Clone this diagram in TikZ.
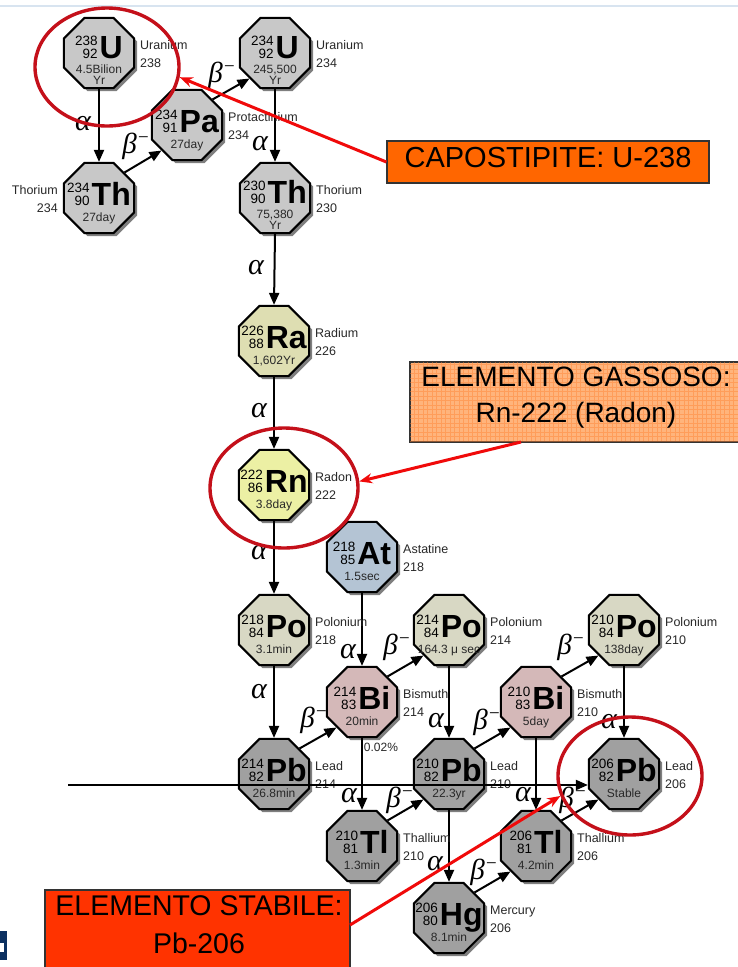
\documentclass[tikz,border=0pt]{standalone}
\usepackage{fontspec}
\setmainfont{Liberation Sans}
\newfontfamily\grk{Liberation Serif}
\usetikzlibrary{shapes.geometric,arrows.meta,shadows}

\definecolor{cgrey}{RGB}{200,200,200}
\definecolor{cra}{RGB}{222,222,178}
\definecolor{crn}{RGB}{236,240,164}
\definecolor{cat}{RGB}{180,196,212}
\definecolor{cpo}{RGB}{216,216,196}
\definecolor{cbi}{RGB}{212,184,184}
\definecolor{cpb}{RGB}{160,160,160}
\definecolor{ellred}{RGB}{196,16,26}
\definecolor{arrred}{RGB}{240,10,10}
\definecolor{orgA}{RGB}{255,102,0}
\definecolor{orgB}{RGB}{255,180,124}
\definecolor{orgL}{RGB}{255,130,50}
\definecolor{orgC}{RGB}{255,51,0}
\definecolor{txt}{RGB}{40,40,40}
\definecolor{navy}{RGB}{12,48,96}
\definecolor{topblue}{RGB}{216,228,240}

\tikzset{
  oct/.style={draw=black, line width=2pt, regular polygon, regular polygon sides=8,
    minimum size=76pt, inner sep=0pt,
    drop shadow={shadow xshift=3pt, shadow yshift=-3pt, opacity=0.5, fill=black}},
  symlab/.style={inner sep=0pt, anchor=base, text=black},
  hllab/.style={inner sep=0pt, anchor=base, text=txt, font=\fontsize{12}{12}\selectfont},
  namelab/.style={inner sep=0pt, align=left, text=txt, font=\fontsize{12.5}{17.5}\selectfont},
  decay/.style={line width=2pt, -{Triangle[length=12pt,width=10pt]}},
  alabel/.style={inner sep=0pt, font=\grk\itshape\fontsize{30}{30}\selectfont},
  blabel/.style={inner sep=0pt, font=\grk\itshape\fontsize{29}{29}\selectfont},
  redell/.style={draw=ellred, line width=3.4pt, ellipse, inner sep=0pt},
  redarrow/.style={draw=arrred, line width=3pt, -{Stealth[length=13pt,width=10pt]}},
  callout/.style={draw=black!80, line width=1.2pt, inner sep=0pt},
  calltext/.style={inner sep=0pt, align=center, text=black},
}

\newcommand\numbl[2]{\vbox{\fontsize{13.5}{12.5}\selectfont\baselineskip=12.5pt\lineskiplimit=-20pt\halign{\hfil##\cr#1\cr#2\cr}}}
% single half-life line
\newcommand\nuc[7]{%
  \node[oct, fill=#3] (#1) at #2 {};
  \path (#1) ++(0,7) node[symlab] {\numbl{#4}{#5}\hspace{2pt}{\bfseries\fontsize{32}{32}\selectfont #6}};
  \path (#1) ++(0,23) node[hllab] {#7};
}
% two half-life lines
\newcommand\nucY[8]{%
  \node[oct, fill=#3] (#1) at #2 {};
  \path (#1) ++(0,5) node[symlab] {\numbl{#4}{#5}\hspace{2pt}{\bfseries\fontsize{32}{32}\selectfont #6}};
  \path (#1) ++(0,20) node[hllab] {#7};
  \path (#1) ++(0,31) node[hllab] {#8};
}
\newcommand\nameR[3]{\path (#1) ++(41,1) node[namelab, anchor=west] {#2\\#3};}
\newcommand\nameL[3]{\path (#1) ++(-41,1) node[namelab, anchor=east, align=right] {#2\\#3};}
\newcommand\alab[1]{\node[alabel] at #1 {α};}
\newcommand\blab[1]{\node[blabel] at #1 {β\raisebox{10pt}{\fontsize{19}{19}\selectfont −}};}

\begin{document}
\begin{tikzpicture}[x=1pt,y=-1pt]
\useasboundingbox (0,0) rectangle (738,967);
\clip (0,0) rectangle (738,967);
\fill[white] (0,0) rectangle (738,967);
\draw[topblue, line width=1.5pt] (0,6) -- (738,6);

% nuclides
\nucY{u238}{(99,53)}{cgrey}{238}{92}{U}{4.5Bilion}{Yr}
\nucY{u234}{(275,53)}{cgrey}{234}{92}{U}{245,500}{Yr}
\nucY{th230}{(275,198)}{cgrey}{230}{90}{Th}{75,380}{Yr}
\nuc{pa}{(187,125)}{cgrey}{234}{91}{Pa}{27day}
\nuc{th234}{(99,198)}{cgrey}{234}{90}{Th}{27day}
\nuc{ra}{(274,341)}{cra}{226}{88}{Ra}{1,602Yr}
\nuc{rn}{(274,485)}{crn}{222}{86}{Rn}{3.8day}
\nuc{at}{(362,557)}{cat}{218}{85}{At}{1.5sec}
\nuc{po218}{(274,630)}{cpo}{218}{84}{Po}{3.1min}
\nuc{po214}{(449,630)}{cpo}{214}{84}{Po}{164.3 μ sec}
\nuc{po210}{(624,630)}{cpo}{210}{84}{Po}{138day}
\nuc{bi214}{(362,702)}{cbi}{214}{83}{Bi}{20min}
\nuc{bi210}{(536,702)}{cbi}{210}{83}{Bi}{5day}
\nuc{pb214}{(274,774)}{cpb}{214}{82}{Pb}{26.8min}
\nuc{pb210}{(449,774)}{cpb}{210}{82}{Pb}{22.3yr}
\nuc{pb206}{(624,774)}{cpb}{206}{82}{Pb}{Stable}
\nuc{tl210}{(362,846)}{cpb}{210}{81}{Tl}{1.3min}
\nuc{tl206}{(536,846)}{cpb}{206}{81}{Tl}{4.2min}
\nuc{hg}{(449,918)}{cpb}{206}{80}{Hg}{8.1min}

% decay arrows
\draw[decay] (u238.south) -- (th234.north);
\draw[decay] (th234.45) -- (pa.225);
\draw[decay] (pa.45) -- (u234.225);
\draw[decay] (u234.south) -- (th230.north);
\draw[decay] (th230.south) -- (ra.north);
\draw[decay] (ra.south) -- (rn.north);
\draw[decay] (rn.south) -- (po218.north);
\draw[decay] (po218.south) -- (pb214.north);
\draw[decay] (at.south) -- (bi214.north);
\draw[decay] (pb214.45) -- (bi214.225);
\draw[decay] (bi214.45) -- (po214.225);
\draw[decay] (bi214.south) -- (tl210.north);
\draw[decay] (po214.south) -- (pb210.north);
\draw[decay] (tl210.45) -- (pb210.225);
\draw[decay] (pb210.45) -- (bi210.225);
\draw[decay] (pb210.south) -- (hg.north);
\draw[decay] (bi210.45) -- (po210.225);
\draw[decay] (bi210.south) -- (tl206.north);
\draw[decay] (hg.45) -- (tl206.225);
\draw[decay] (po210.south) -- (pb206.north);
\draw[decay] (tl206.45) -- (pb206.225);

% decay labels
\alab{(83,124)}
\blab{(136,146)}
\blab{(222,75)}
\alab{(260,144)}
\alab{(256,268)}
\alab{(259,411)}
\alab{(259,553)}
\alab{(259,692)}
\alab{(348,652)}
\blab{(397,647)}
\blab{(571,647)}
\blab{(314,720)}
\alab{(436,721)}
\blab{(487,722)}
\alab{(349,796)}
\blab{(400,800)}
\alab{(523,795)}
\blab{(573,800)}
\alab{(609,722)}
\alab{(435,864)}
\blab{(484,872)}
\node[hllab, anchor=center] at (381,747) {0.02\%};

% names
\nameR{u238}{Uranium}{238}
\nameR{u234}{Uranium}{234}
\nameR{pa}{Protactinium}{234}
\nameL{th234}{Thorium}{234}
\nameR{th230}{Thorium}{230}
\nameR{ra}{Radium}{226}
\nameR{rn}{Radon}{222}
\nameR{at}{Astatine}{218}
\nameR{po218}{Polonium}{218}
\nameR{po214}{Polonium}{214}
\nameR{po210}{Polonium}{210}
\nameR{bi214}{Bismuth}{214}
\nameR{bi210}{Bismuth}{210}
\nameR{pb214}{Lead}{214}
\nameR{pb210}{Lead}{210}
\nameR{pb206}{Lead}{206}
\nameR{tl210}{Thallium}{210}
\nameR{tl206}{Thallium}{206}
\nameR{hg}{Mercury}{206}

% horizontal black arrow
\coordinate (hstart) at (68,785);
\draw[line width=2pt, -{Triangle[length=12pt,width=10pt]}] (hstart) -- (hstart -| pb206.west);

% red ellipses
\node[redell, minimum width=144pt, minimum height=118pt] (e1) at (107,67) {};
\node[redell, minimum width=148pt, minimum height=120pt] (e2) at (284,488) {};
\node[redell, minimum width=144pt, minimum height=118pt] (e3) at (630,776) {};

% callout boxes
\node[callout, fill=orgA, minimum width=322pt, minimum height=42pt] (cap) at (548,162) {};
\node[calltext, font=\fontsize{29}{29}\selectfont] at (548,158) {CAPOSTIPITE: U-238};

\node[callout, fill=orgB, minimum width=330pt, minimum height=80pt] (gas) at (575,402) {};
\begin{scope}
  \clip (gas.south west) rectangle (gas.north east);
  \draw[orgL, opacity=0.45, line width=0.6pt, xstep=4.5pt, ystep=4.5pt] (gas.south west) grid (gas.north east);
\end{scope}
\draw[black!80, line width=1.2pt] (gas.south west) rectangle (gas.north east);
\node[calltext, font=\fontsize{28}{36}\selectfont] at (576,398) {ELEMENTO GASSOSO:\\Rn-222 (Radon)};

\node[callout, fill=orgC, minimum width=305pt, minimum height=120pt] (stab) at (197.5,950) {};
\node[calltext, font=\fontsize{28.5}{38}\selectfont] at (199,925) {ELEMENTO STABILE:\\Pb-206};

% red arrows
\coordinate (g1) at (521,442);
\coordinate (s1) at (350,925);
\draw[redarrow] (cap.west) -- (e1.-8);
\draw[redarrow] (g1) -- (e2.5);
\draw[redarrow] (s1) -- (e3.196);

% logo fragment
\fill[navy] (0,931) rectangle (7,960);
\fill[white] (0,943) rectangle (4,952);
\end{tikzpicture}
\end{document}
